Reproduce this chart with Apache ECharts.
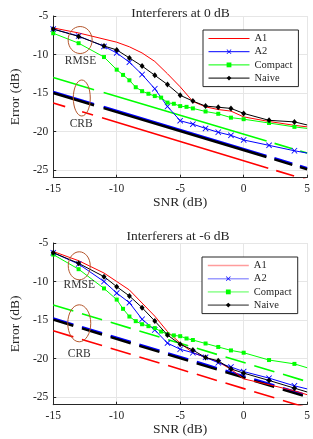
<!DOCTYPE html>
<html><head><meta charset="utf-8">
<script src="https://cdn.jsdelivr.net/npm/echarts@6/dist/echarts.min.js"></script>
<style>html,body{margin:0;padding:0;background:#fff}#c{width:313px;height:439px}</style>
</head><body><div id="c"></div>
<script>
// ---- data ----
const snrMain = [-15,-13,-11,-10,-9,-8,-7,-6,-5,-4,-3,-2,-1,0,2,4,5];
const snrCompact = [-15,-13,-11,-10,-9.5,-9,-8.5,-8,-7.5,-7,-6.5,-6,-5.5,-5,-4.5,-4,-3,-2,-1,0,2,4,5];
const snrCrb = [-15,5];
const xTicks = [-15,-10,-5,0,5];
const yTicks = [-25,-20,-15,-10,-5];
const titles = ['Interferers at 0 dB','Interferers at -6 dB'];
const seriesNames = ['A1','A2','Compact','Naive'];

// Interferers at 0 dB
const a1_0 = [-6.55,-7.2,-8.0,-8.4,-9.0,-9.8,-10.9,-12.5,-14.2,-16.1,-16.8,-17.15,-17.35,-18.1,-18.7,-19.2,-19.4];
const a2_0 = [-6.7,-7.6,-8.95,-9.8,-11.0,-12.6,-14.45,-16.75,-18.6,-19.05,-19.6,-20.1,-20.5,-21.1,-21.8,-22.5,-22.8];
const compact_0 = [-7.24,-8.53,-10.33,-11.97,-12.65,-13.35,-14.25,-14.76,-15.1,-15.4,-15.6,-16.25,-16.4,-16.7,-16.8,-17.0,-17.4,-17.7,-18.2,-18.4,-18.9,-19.4,-19.6];
const naive_0 = [-6.7,-7.65,-8.9,-9.4,-10.45,-11.5,-12.7,-13.9,-15.3,-16.05,-16.7,-16.85,-17.0,-17.65,-18.55,-18.75,-19.15];
const crbCompact_0 = [-13.0,-22.8];
const crbA2_0 = [-14.85,-24.75];
const crbNaive_0 = [-15.0,-24.9];
const crbA1_0 = [-16.3,-26.3];

// Interferers at -6 dB
const a1_6 = [-6.1,-7.3,-8.9,-10.0,-11.1,-12.8,-14.5,-16.5,-18.0,-19.25,-19.85,-20.45,-21.4,-22.65,-23.4,-24.2,-24.7];
const a2_6 = [-6.26,-7.73,-10.0,-11.5,-12.75,-14.9,-16.3,-18.0,-18.8,-19.25,-19.85,-20.55,-21.1,-21.7,-22.55,-23.55,-23.95];
const compact_6 = [-6.5,-8.4,-10.9,-12.35,-13.55,-14.55,-15.15,-15.55,-15.8,-16.05,-16.5,-16.85,-17.0,-17.1,-17.4,-17.6,-18.05,-18.5,-18.95,-19.25,-20.2,-20.7,-21.2];
const naive_6 = [-6.26,-7.64,-9.37,-10.67,-11.88,-13.4,-15.13,-16.95,-18.16,-18.9,-19.88,-20.3,-21.35,-21.9,-22.85,-23.85,-24.35];
const crbCompact_6 = [-13.05,-23.0];
const crbA2_6 = [-14.8,-24.8];
const crbNaive_6 = [-14.95,-25.0];
const crbA1_6 = [-16.4,-26.4];

// annotation anchors (data coords): [snr, error]
const annot = [
  {rmse:[-12.88,-8.12], rmseText:[-12.85,-10.85], crb:[-12.75,-15.65], crbText:[-12.8,-19.05], rx1:12, ry1:13.5, rx2:8.5, ry2:18},
  {rmse:[-12.95,-7.96], rmseText:[-12.95,-10.5], crb:[-12.95,-15.43], crbText:[-12.95,-19.4], rx1:11, ry1:14, rx2:11.5, ry2:18.5}
];

// ---- styling ----
const FONT = "'Liberation Serif','DejaVu Serif',serif";
const TXT = '#262626';
const COL = {A1:'#ff0000', A2:'#0000ff', Compact:'#00ff00', Naive:'#000000'};
const xSym = 'path://M0,1L1,0L5,4L9,0L10,1L6,5L10,9L9,10L5,6L1,10L0,9L4,5Z';

function pairs(xs, ys, lastNoSymbol) {
  return ys.map((y,i)=>{
    const p = {value:[xs[i], y]};
    if (lastNoSymbol && xs[i] === 5) p.symbol = 'none';
    return p;
  });
}

const grids = [
  {left:41, right:3, top:16, height:161.7},
  {left:38, right:5, top:243, height:161.7}
];

const topDash = [42.6,10,170,8.3,18.7,8,25,9];
const redTopDash = [12.5,17.7,11.4,9.4,173.7,8.3,18.7,9.4,30,9];
const botDash = [21,9];

function chartSeries(g, d) {
  const dash = g === 0 ? topDash : botDash;
  const rdash = g === 0 ? redTopDash : botDash;
  return [
    {name:'crbCompact'+g, type:'line', xAxisIndex:g, yAxisIndex:g, data:pairs(snrCrb,d.crbC), symbol:'none', silent:true,
      lineStyle:{color:COL.Compact, width:1.6, type:dash}, z:1},
    {name:'crbA2'+g, type:'line', xAxisIndex:g, yAxisIndex:g, data:pairs(snrCrb,d.crbB), symbol:'none', silent:true,
      lineStyle:{color:COL.A2, width:2.4, type:dash}, z:1},
    {name:'crbNaive'+g, type:'line', xAxisIndex:g, yAxisIndex:g, data:pairs(snrCrb,d.crbN), symbol:'none', silent:true,
      lineStyle:{color:COL.Naive, width:2.4, type:dash}, z:1},
    {name:'crbA1'+g, type:'line', xAxisIndex:g, yAxisIndex:g, data:pairs(snrCrb,d.crbR), symbol:'none', silent:true,
      lineStyle:{color:COL.A1, width:1.6, type:rdash}, z:1},
    {name:'A1', type:'line', xAxisIndex:g, yAxisIndex:g, data:pairs(snrMain,d.a1), symbol:'none',
      lineStyle:{color:COL.A1, width:1}, itemStyle:{color:COL.A1}, z:3},
    {name:'A2', type:'line', xAxisIndex:g, yAxisIndex:g, data:pairs(snrMain,d.a2,true), symbol:xSym, symbolSize:6,
      lineStyle:{color:COL.A2, width:1}, itemStyle:{color:COL.A2}, z:3},
    {name:'Compact', type:'line', xAxisIndex:g, yAxisIndex:g, data:pairs(snrCompact,d.cp,true), symbol:'rect', symbolSize:4,
      lineStyle:{color:COL.Compact, width:1}, itemStyle:{color:COL.Compact}, z:3},
    {name:'Naive', type:'line', xAxisIndex:g, yAxisIndex:g, data:pairs(snrMain,d.nv,true), symbol:'diamond', symbolSize:[5,6],
      lineStyle:{color:COL.Naive, width:1}, itemStyle:{color:COL.Naive}, z:4}
  ];
}

const series = [].concat(
  chartSeries(0, {a1:a1_0, a2:a2_0, cp:compact_0, nv:naive_0, crbC:crbCompact_0, crbB:crbA2_0, crbN:crbNaive_0, crbR:crbA1_0}),
  chartSeries(1, {a1:a1_6, a2:a2_6, cp:compact_6, nv:naive_6, crbC:crbCompact_6, crbB:crbA2_6, crbN:crbNaive_6, crbR:crbA1_6})
);

function xAx(g) {
  return {type:'value', gridIndex:g, min:-15, max:5, interval:5,
    name:'SNR (dB)', nameLocation:'middle', nameGap:15,
    nameTextStyle:{fontFamily:FONT, fontSize:13.5, color:TXT},
    axisLine:{onZero:false, lineStyle:{color:TXT, width:1}},
    axisTick:{inside:true, length:3, lineStyle:{color:TXT}},
    axisLabel:{fontFamily:FONT, fontSize:11.5, color:TXT, margin:5},
    splitLine:{show:true, lineStyle:{color:'#e6e6e6', width:1}}};
}
function yAx(g) {
  return {type:'value', gridIndex:g, min:-26, max:-5, interval:1,
    name:'Error (dB)', nameLocation:'middle', nameGap:25,
    nameTextStyle:{fontFamily:FONT, fontSize:13.5, color:TXT},
    axisLine:{show:true, onZero:false, lineStyle:{color:TXT, width:1}},
    axisTick:{show:true, inside:true, length:3, lineStyle:{color:TXT}, customValues:yTicks},
    axisLabel:{fontFamily:FONT, fontSize:11.5, color:TXT, margin:5, customValues:yTicks},
    splitLine:{show:true, lineStyle:{color:'#e6e6e6', width:1}}};
}

const legendLight = {A1:'#ff9c9c', A2:'#9c9cff', Compact:'#9cff9c', Naive:'#808080'};

function legend(g) {
  const pos = g === 0 ? {left:203, top:30} : {left:202, top:257};
  return Object.assign({}, pos, {
    orient:'vertical', itemWidth:41, itemHeight:6, itemGap:2.2,
    padding:[3,6,3,5], borderColor:TXT, borderWidth:1, backgroundColor:'#fff',
    selectedMode:false,
    lineStyle:{width: g === 0 ? 1 : 1.6},
    textStyle:{fontFamily:FONT, fontSize:10.5, color:TXT, lineHeight:11},
    data: seriesNames.map(n => {
      const it = {name:n};
      if (g === 1) it.lineStyle = {color:legendLight[n], width:1.6};
      if (n === 'A1') it.itemStyle = {opacity:0};
      return it;
    })
  });
}

const chart = echarts.init(document.getElementById('c'), null, {renderer:'canvas'});
chart.setOption({
  animation:false,
  backgroundColor:'#fff',
  title: titles.map((t,i)=>({text:t, left: i===0 ? 175.5 : 173, top: i===0 ? 1 : 224, textAlign:'center',
    textStyle:{fontFamily:FONT, fontSize:13.5, fontWeight:'normal', color:TXT}})),
  grid: grids,
  xAxis:[xAx(0), xAx(1)],
  yAxis:[yAx(0), yAx(1)],
  legend:[legend(0), legend(1)],
  series: series
});

// annotations (ellipses + labels) placed from data coords
const BROWN = '#b4562c';
const gfx = [];
annot.forEach((a, g) => {
  const c1 = chart.convertToPixel({gridIndex:g}, a.rmse);
  const t1 = chart.convertToPixel({gridIndex:g}, a.rmseText);
  const c2 = chart.convertToPixel({gridIndex:g}, a.crb);
  const t2 = chart.convertToPixel({gridIndex:g}, a.crbText);
  gfx.push({type:'ellipse', shape:{cx:c1[0], cy:c1[1], rx:a.rx1, ry:a.ry1}, style:{fill:null, stroke:BROWN, lineWidth:1}, z:100});
  gfx.push({type:'ellipse', shape:{cx:c2[0], cy:c2[1], rx:a.rx2, ry:a.ry2}, style:{fill:null, stroke:BROWN, lineWidth:1}, z:100});
  gfx.push({type:'text', x:t1[0], y:t1[1], style:{text:'RMSE', font:'11.5px ' + FONT, fill:'#333', align:'center', verticalAlign:'middle'}, z:100});
  gfx.push({type:'text', x:t2[0], y:t2[1], style:{text:'CRB', font:'11.5px ' + FONT, fill:'#333', align:'center', verticalAlign:'middle'}, z:100});
});
chart.setOption({graphic: gfx});
</script></body></html>
